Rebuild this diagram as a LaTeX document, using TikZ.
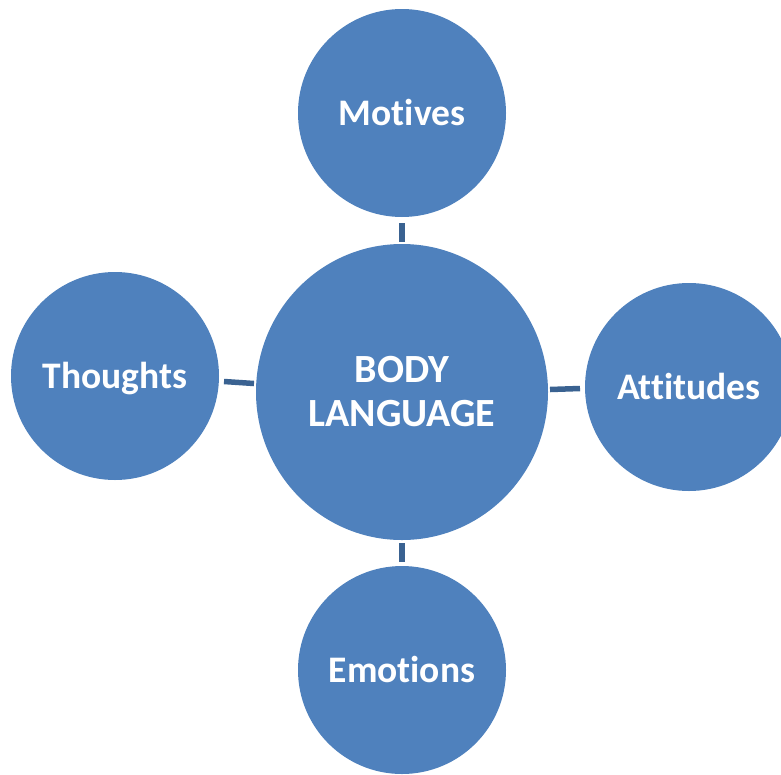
\documentclass[tikz,border=0pt]{standalone}
\usepackage{fontspec}
\setmainfont[Ligatures=NoCommon]{Carlito}
\usetikzlibrary{shapes.geometric}
\definecolor{blobfill}{HTML}{4F81BD}
\definecolor{linkc}{HTML}{3A6291}
\tikzset{
  blob/.style={circle,fill=blobfill,draw=none,inner sep=0pt,text=white,font=\bfseries\fontsize{37.5pt}{44pt}\selectfont,text height=32pt,text depth=8pt},
  hub/.style={ellipse,fill=blobfill,draw=none,inner sep=0pt,text=white,font=\bfseries\fontsize{40pt}{44pt}\selectfont,align=center},
  link/.style={draw=linkc,line width=5.5pt}
}
\begin{document}
\begin{tikzpicture}[x=1pt,y=-1pt]
\useasboundingbox (0,0) rectangle (781,774);
\node[hub,minimum width=292pt,minimum height=296pt] (c) at (402,392) {BODY\\LANGUAGE};
\node[blob,minimum size=208pt] (m) at (402,113) {Motives};
\node[blob,minimum size=208pt] (t) at (115,376) {Thoughts};
\node[blob,minimum size=208pt] (a) at (689,387) {Attitudes};
\node[blob,minimum size=208pt] (e) at (402,670) {Emotions};
\coordinate (m1) at (402,223); \coordinate (m2) at (402,242);
\coordinate (t1) at (224,381.5); \coordinate (t2) at (254,383.5);
\coordinate (a1) at (550,389.5); \coordinate (a2) at (580,388.5);
\coordinate (e1) at (402,543); \coordinate (e2) at (402,562);
\draw[link] (m1) -- (m2);
\draw[link] (t1) -- (t2);
\draw[link] (a1) -- (a2);
\draw[link] (e1) -- (e2);
\end{tikzpicture}
\end{document}
